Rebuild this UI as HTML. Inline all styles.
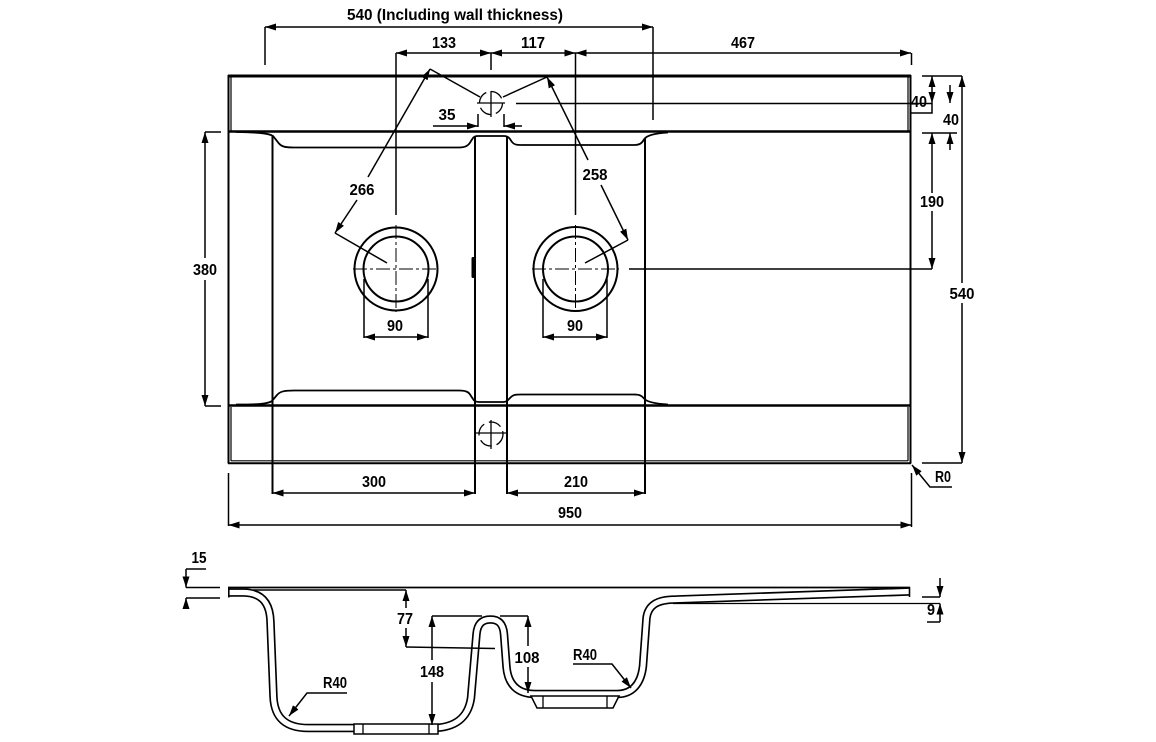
<!DOCTYPE html>
<html><head><meta charset="utf-8"><style>
html,body{margin:0;padding:0;background:#fff;}
svg{display:block;}
text{font-family:"Liberation Sans",Arial,sans-serif;font-weight:bold;font-size:16px;text-anchor:middle;fill:#000;}
</style></head><body>
<svg width="1156" height="742" viewBox="0 0 1156 742" xmlns="http://www.w3.org/2000/svg">
<defs>
<marker id="a" viewBox="0 0 11 7" refX="11" refY="3.5" markerWidth="11" markerHeight="7" markerUnits="userSpaceOnUse" orient="auto-start-reverse"><path d="M0,0 L11,3.5 L0,7 z" fill="#000"/></marker>
</defs>
<rect width="1156" height="742" fill="#fff"/>

<g fill="none" stroke="#000" stroke-width="2">
<line x1="228" y1="76" x2="911" y2="76" stroke-width="3"/>
<line x1="228.5" y1="75" x2="228.5" y2="463.5"/>
<line x1="910.5" y1="75" x2="910.5" y2="463.5"/>
<line x1="231" y1="77" x2="231" y2="131" stroke-width="1.2"/>
<line x1="908" y1="77" x2="908" y2="131" stroke-width="1.2"/>
<line x1="228" y1="131.5" x2="911" y2="131.5" stroke-width="2.5"/>
<line x1="228" y1="405.5" x2="911" y2="405.5" stroke-width="2.5"/>
<line x1="231" y1="407" x2="231" y2="461" stroke-width="1.2"/>
<line x1="908" y1="407" x2="908" y2="461" stroke-width="1.2"/>
<line x1="231" y1="460.8" x2="908" y2="460.8" stroke-width="1.2"/>
<line x1="228" y1="463.3" x2="911" y2="463.3" stroke-width="2"/>

<path d="M 236 132 C 258 132.5, 268 133, 273 136 L 279 143.5 C 282 147, 286 147.5, 294 147.5 L 459 147.5 C 466 147.5, 469 145, 471 141 L 473 138 C 474 136.5, 475.5 136, 478 136 L 504 136 C 507 136, 508.5 137, 510 139 L 512 142 C 514 144.5, 516 145, 522 145 L 634 145 C 640 145, 642 143, 644 139.5 C 646 136, 652 133.5, 668 132.5" stroke-width="1.8"/>
<path d="M 236 404.5 C 258 404.5, 268 404, 272 401 L 277 395 C 280 391.5, 284 390.5, 294 390.5 L 459 390.5 C 466 390.5, 469 392, 471 396 L 473 399 C 474 401, 476 402, 479 402 L 503 402 C 506 402, 507.5 401, 509 399 L 511 397 C 513 395, 515 394.5, 521 394.5 L 634 394.5 C 640 394.5, 642 396, 644 398.5 C 646 401, 652 403.5, 668 404.5" stroke-width="1.8"/>

<line x1="272.5" y1="136" x2="272.5" y2="494"/>
<line x1="475" y1="137" x2="475" y2="494"/>
<line x1="507" y1="137" x2="507" y2="494"/>
<line x1="645" y1="138" x2="645" y2="494"/>

<circle cx="396" cy="269" r="41.5"/>
<circle cx="396" cy="269" r="32.5"/>
<circle cx="575.5" cy="269" r="42"/>
<circle cx="575.5" cy="269" r="32.5"/>
</g>
<rect x="471.5" y="257" width="3.5" height="21" rx="1.5" fill="#000"/>

<g fill="none" stroke="#000" stroke-width="1" stroke-dasharray="14 3 3 3">
<line x1="353" y1="269" x2="439" y2="269"/>
<line x1="396" y1="225" x2="396" y2="312"/>
<line x1="532" y1="269" x2="619" y2="269"/>
<line x1="575.5" y1="225" x2="575.5" y2="312"/>
</g>

<g fill="none" stroke="#000" stroke-width="1.3">
<circle cx="491" cy="103" r="11.5" stroke-dasharray="13 5"/>
<line x1="477" y1="103" x2="505" y2="103"/>
<line x1="491" y1="91" x2="491" y2="117"/>
<circle cx="491" cy="434" r="12" stroke-dasharray="13 5"/>
<line x1="475" y1="433" x2="507" y2="433"/>
<line x1="491" y1="420" x2="491" y2="449"/>
</g>

<g fill="none" stroke="#000" stroke-width="1.5">
<line x1="265" y1="27" x2="653" y2="27" marker-start="url(#a)" marker-end="url(#a)"/>
<line x1="265" y1="27" x2="265" y2="65"/>
<line x1="653" y1="27" x2="653" y2="120"/>
<line x1="396" y1="53" x2="491" y2="53" marker-start="url(#a)" marker-end="url(#a)"/>
<line x1="491" y1="53" x2="575.5" y2="53" marker-start="url(#a)" marker-end="url(#a)"/>
<line x1="575.5" y1="53" x2="911" y2="53" marker-start="url(#a)" marker-end="url(#a)"/>
<line x1="396" y1="53" x2="396" y2="215"/>
<line x1="575.5" y1="53" x2="575.5" y2="215"/>
<line x1="491" y1="53" x2="491" y2="70"/>
<line x1="911.5" y1="53" x2="911.5" y2="65"/>
<line x1="433" y1="126" x2="478" y2="126" marker-end="url(#a)"/>
<line x1="522" y1="126" x2="504" y2="126" marker-end="url(#a)"/>
<line x1="478" y1="114" x2="478" y2="127"/>
<line x1="504" y1="114" x2="504" y2="127"/>
<line x1="368" y1="177" x2="430" y2="69" marker-end="url(#a)"/>
<line x1="357" y1="200" x2="335" y2="233" marker-end="url(#a)"/>
<line x1="335" y1="233" x2="387" y2="263"/>
<line x1="430" y1="69" x2="480" y2="97"/>
<line x1="588" y1="160" x2="547" y2="77" marker-end="url(#a)"/>
<line x1="601" y1="185" x2="628" y2="240" marker-end="url(#a)"/>
<line x1="628" y1="240" x2="585" y2="263"/>
<line x1="547" y1="77" x2="503" y2="97"/>
<line x1="516" y1="103.5" x2="932" y2="103.5"/>
<line x1="932" y1="76" x2="932" y2="103" marker-start="url(#a)" marker-end="url(#a)"/>
<polyline points="932,103 932,113 911,113"/>
<line x1="922" y1="76" x2="962" y2="76"/>
<line x1="950" y1="85" x2="950" y2="103" marker-end="url(#a)"/>
<line x1="950" y1="150" x2="950" y2="133" marker-end="url(#a)"/>
<line x1="922" y1="133" x2="957" y2="133"/>
<line x1="932" y1="193" x2="932" y2="133" marker-end="url(#a)"/>
<line x1="932" y1="211" x2="932" y2="269" marker-end="url(#a)"/>
<line x1="629" y1="269" x2="932" y2="269"/>
<line x1="962" y1="283" x2="962" y2="76" marker-end="url(#a)"/>
<line x1="962" y1="303" x2="962" y2="463" marker-end="url(#a)"/>
<line x1="922" y1="463" x2="962" y2="463"/>
<polyline points="952,487 930,487 912,465" marker-end="url(#a)"/>
<line x1="205" y1="258" x2="205" y2="132" marker-end="url(#a)"/>
<line x1="205" y1="280" x2="205" y2="406" marker-end="url(#a)"/>
<line x1="205" y1="132" x2="221" y2="132"/>
<line x1="205" y1="406" x2="221" y2="406"/>
<line x1="364" y1="279" x2="364" y2="338"/>
<line x1="428" y1="279" x2="428" y2="338"/>
<line x1="364" y1="337" x2="428" y2="337" marker-start="url(#a)" marker-end="url(#a)"/>
<line x1="543" y1="279" x2="543" y2="338"/>
<line x1="607" y1="279" x2="607" y2="338"/>
<line x1="543" y1="337" x2="607" y2="337" marker-start="url(#a)" marker-end="url(#a)"/>
<line x1="272.5" y1="493" x2="475" y2="493" marker-start="url(#a)" marker-end="url(#a)"/>
<line x1="507" y1="493" x2="645" y2="493" marker-start="url(#a)" marker-end="url(#a)"/>
<line x1="228.5" y1="473" x2="228.5" y2="526"/>
<line x1="911.5" y1="473" x2="911.5" y2="527"/>
<line x1="228.5" y1="525" x2="911.5" y2="525" marker-start="url(#a)" marker-end="url(#a)"/>
</g>

<g fill="none" stroke="#000">
<line x1="228" y1="587.5" x2="910" y2="587.5" stroke-width="1.8"/>
<path d="M 229 592.5 L 244 592.5 C 262 593, 270 603, 270.5 622 L 273.5 697 C 274.5 718, 286 728, 308 728 L 432 728 C 455 728, 468 718, 471 698 L 476.5 634 C 477.5 623, 483 619.5, 490.5 619.5 C 498 619.5, 503 623, 504 634 L 506.5 667 C 508 684, 517 694, 535 694 L 617 694 C 632 694, 641 684, 643 666 L 646.5 618 C 648 606, 656 599.5, 676 599.5 L 909 591.5" stroke-width="8.5"/>
<path d="M 229 592.5 L 244 592.5 C 262 593, 270 603, 270.5 622 L 273.5 697 C 274.5 718, 286 728, 308 728 L 432 728 C 455 728, 468 718, 471 698 L 476.5 634 C 477.5 623, 483 619.5, 490.5 619.5 C 498 619.5, 503 623, 504 634 L 506.5 667 C 508 684, 517 694, 535 694 L 617 694 C 632 694, 641 684, 643 666 L 646.5 618 C 648 606, 656 599.5, 676 599.5 L 909 591.5" stroke="#fff" stroke-width="5.2"/>
<line x1="228.8" y1="587" x2="228.8" y2="597.5" stroke-width="1.6"/>
<line x1="909.5" y1="587" x2="909.5" y2="597" stroke-width="1.6"/>
<polygon points="354,724 438,724 438,734 354,734" fill="#fff" stroke-width="1.5"/>
<line x1="363" y1="724" x2="363" y2="734" stroke-width="1.3"/>
<line x1="429" y1="724" x2="429" y2="734" stroke-width="1.3"/>
<polygon points="531,696 619,696 613,708 537,708" fill="#fff" stroke-width="1.5"/>
<line x1="543" y1="696" x2="543" y2="708" stroke-width="1.3"/>
<line x1="607" y1="696" x2="607" y2="708" stroke-width="1.3"/>
</g>

<g fill="none" stroke="#000" stroke-width="1.5">
<line x1="186" y1="569" x2="206" y2="569"/>
<line x1="186" y1="569" x2="186" y2="587.5" marker-end="url(#a)"/>
<line x1="186" y1="587.5" x2="220" y2="587.5"/>
<line x1="186" y1="598" x2="220" y2="598"/>
<line x1="186" y1="608" x2="186" y2="598" marker-end="url(#a)"/>
<line x1="253" y1="590" x2="406" y2="590"/>
<line x1="406" y1="608" x2="406" y2="590" marker-end="url(#a)"/>
<line x1="406" y1="628" x2="406" y2="647" marker-end="url(#a)"/>
<line x1="406" y1="647" x2="495" y2="648.5"/>
<line x1="432" y1="616" x2="482" y2="616"/>
<line x1="432" y1="660" x2="432" y2="616" marker-end="url(#a)"/>
<line x1="432" y1="682" x2="432" y2="725" marker-end="url(#a)"/>
<line x1="500" y1="616" x2="528" y2="616"/>
<line x1="528" y1="646" x2="528" y2="616" marker-end="url(#a)"/>
<line x1="528" y1="667" x2="528" y2="693" marker-end="url(#a)"/>
<polyline points="347,693 307,693 289,716" marker-end="url(#a)"/>
<polyline points="573,664 612,664 631,688" marker-end="url(#a)"/>
<line x1="922" y1="597" x2="940" y2="597"/>
<line x1="673" y1="603.5" x2="940" y2="603.5" stroke-width="1.3"/>
<line x1="927" y1="622" x2="940" y2="622"/>
<line x1="940" y1="578" x2="940" y2="597" marker-end="url(#a)"/>
<line x1="940" y1="622" x2="940" y2="603.5" marker-end="url(#a)"/>
</g>

<text x="455" y="20" textLength="216" lengthAdjust="spacingAndGlyphs">540 (Including wall thickness)</text>
<text x="444" y="48" textLength="24" lengthAdjust="spacingAndGlyphs">133</text>
<text x="533" y="48" textLength="24" lengthAdjust="spacingAndGlyphs">117</text>
<text x="743" y="48" textLength="24" lengthAdjust="spacingAndGlyphs">467</text>
<text x="447" y="120" textLength="17" lengthAdjust="spacingAndGlyphs">35</text>
<text x="362" y="195" textLength="25" lengthAdjust="spacingAndGlyphs">266</text>
<text x="595" y="180" textLength="25" lengthAdjust="spacingAndGlyphs">258</text>
<text x="919" y="107" textLength="16" lengthAdjust="spacingAndGlyphs">40</text>
<text x="951" y="125" textLength="16" lengthAdjust="spacingAndGlyphs">40</text>
<text x="932" y="207" textLength="24" lengthAdjust="spacingAndGlyphs">190</text>
<text x="962" y="299" textLength="25" lengthAdjust="spacingAndGlyphs">540</text>
<text x="205" y="275" textLength="24" lengthAdjust="spacingAndGlyphs">380</text>
<text x="395" y="331" textLength="16" lengthAdjust="spacingAndGlyphs">90</text>
<text x="575" y="331" textLength="16" lengthAdjust="spacingAndGlyphs">90</text>
<text x="374" y="487" textLength="24" lengthAdjust="spacingAndGlyphs">300</text>
<text x="576" y="487" textLength="24" lengthAdjust="spacingAndGlyphs">210</text>
<text x="570" y="518" textLength="24" lengthAdjust="spacingAndGlyphs">950</text>
<text x="943" y="482" textLength="16" lengthAdjust="spacingAndGlyphs">R0</text>
<text x="199" y="563" textLength="15" lengthAdjust="spacingAndGlyphs">15</text>
<text x="405" y="624" textLength="16" lengthAdjust="spacingAndGlyphs">77</text>
<text x="432" y="677" textLength="24" lengthAdjust="spacingAndGlyphs">148</text>
<text x="527" y="663" textLength="25" lengthAdjust="spacingAndGlyphs">108</text>
<text x="335" y="688" textLength="24" lengthAdjust="spacingAndGlyphs">R40</text>
<text x="585" y="660" textLength="24" lengthAdjust="spacingAndGlyphs">R40</text>
<text x="931" y="615" textLength="8" lengthAdjust="spacingAndGlyphs">9</text>
</svg>
</body></html>
